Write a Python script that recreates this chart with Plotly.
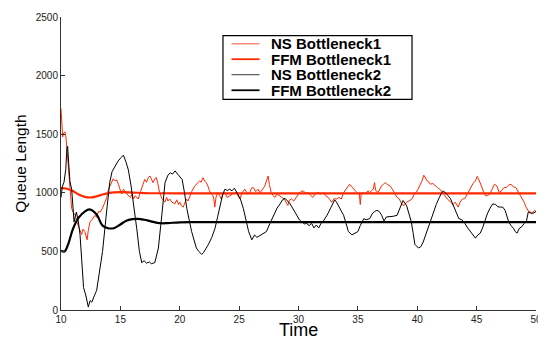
import plotly.graph_objects as go

# ---------------- data ----------------
ns1_t = [10.0, 10.07, 10.14, 10.22, 10.34, 10.42, 10.5, 10.6, 10.67, 10.8, 10.9, 11.05, 11.2, 11.3, 11.46, 11.6,
         11.74, 11.85, 12.0, 12.1, 12.2, 12.3, 12.44, 12.6, 12.75, 12.86, 13.0, 13.15, 13.3, 13.5, 13.7, 13.85,
         14.0, 14.15, 14.27, 14.4, 14.55, 14.7, 14.83, 14.95, 15.1, 15.25, 15.4, 15.55, 15.67, 15.85, 16.0, 16.1,
         16.25, 16.4, 16.5, 16.7, 16.9, 17.05, 17.2, 17.35, 17.5, 17.65, 17.75, 17.9, 18.03, 18.15, 18.3, 18.5,
         18.74, 18.9, 19.0, 19.16, 19.35, 19.58, 19.75, 19.9, 20.0, 20.15, 20.3, 20.45, 20.56, 20.7, 20.84, 21.0,
         21.26, 21.45, 21.68, 21.8, 21.96, 22.1, 22.24, 22.4, 22.5, 22.65, 22.8, 22.88, 22.95, 23.05, 23.2, 23.35,
         23.5, 23.65, 23.8, 24.0, 24.2, 24.45, 24.77, 24.9, 25.05, 25.25, 25.48, 25.7, 25.9, 26.05, 26.2, 26.4,
         26.6, 26.75, 26.9, 27.05, 27.16, 27.3, 27.44, 27.55, 27.7, 27.85, 28.0, 28.2, 28.4, 28.6, 28.8, 28.95,
         29.1, 29.25, 29.4, 29.6, 29.8, 30.0, 30.2, 30.4, 30.6, 30.8, 31.0, 31.2, 31.4, 31.65, 31.85, 32.1,
         32.3, 32.5, 32.65, 32.8, 33.0, 33.2, 33.4, 33.6, 33.8, 34.0, 34.15, 34.3, 34.5, 34.7, 34.85, 35.0,
         35.12, 35.2, 35.28, 35.4, 35.6, 35.86, 36.0, 36.15, 36.3, 36.4, 36.5, 36.7, 36.85, 37.0, 37.15, 37.3,
         37.5, 37.7, 37.9, 38.1, 38.3, 38.5, 38.7, 38.9, 39.1, 39.3, 39.55, 39.75, 40.0, 40.2, 40.4, 40.55,
         40.7, 40.85, 41.0, 41.1, 41.3, 41.5, 41.7, 41.9, 42.1, 42.35, 42.55, 42.8, 43.0, 43.2, 43.45, 43.6,
         43.8, 44.0, 44.25, 44.5, 44.7, 44.9, 45.05, 45.15, 45.3, 45.4, 45.6, 45.75, 45.9, 46.1, 46.3, 46.5,
         46.7, 46.9, 47.1, 47.3, 47.5, 47.7, 47.9, 48.1, 48.3, 48.5, 48.7, 48.85, 49.0, 49.15, 49.3, 49.45,
         49.6, 49.75, 49.9, 50.0]
ns1_y = [1720, 1550, 1477, 1510, 1520, 1470, 1365, 1200, 1114, 950, 864, 830, 810, 760, 725, 680,
         644, 690, 669, 620, 599, 680, 752, 770, 800, 808, 790, 840, 836, 870, 920, 960,
         1031, 1060, 1087, 1120, 1101, 1110, 1073, 1040, 989, 1030, 1017, 990, 975, 960, 990, 947,
         975, 961, 947, 1010, 1080, 1114, 1090, 1130, 1143, 1110, 1087, 1120, 1129, 1080, 1003, 950,
         920, 960, 930, 947, 920, 905, 940, 900, 920, 890, 878, 920, 947, 930, 975, 1010,
         1059, 1080, 1101, 1090, 1129, 1100, 1087, 1050, 1017, 990, 975, 940, 878, 960, 1003, 980,
         947, 990, 1003, 960, 975, 990, 1003, 980, 947, 1000, 1031, 990, 1003, 1040, 1045, 1010,
         1031, 1000, 1017, 1040, 1059, 1100, 1143, 1070, 1003, 980, 961, 990, 975, 960, 947, 920,
         892, 940, 947, 930, 961, 989, 1010, 1017, 995, 1003, 980, 961, 990, 1003, 990, 1000,
         975, 961, 940, 920, 950, 947, 960, 947, 1000, 1031, 1060, 1073, 1050, 1031, 1010, 989,
         1000, 900, 990, 1003, 990, 1017, 1000, 1020, 1031, 1087, 1020, 1003, 1031, 1060, 1073, 1087,
         1070, 1060, 1031, 990, 961, 947, 900, 892, 920, 930, 947, 989, 1017, 1059, 1101, 1150,
         1129, 1100, 1090, 1073, 1080, 1059, 1045, 1031, 1003, 975, 947, 920, 900, 920, 878, 920,
         947, 950, 1000, 1045, 1080, 1101, 1140, 1120, 1090, 1059, 1003, 975, 975, 990, 1030, 1073,
         1060, 1003, 1017, 1045, 1045, 1065, 1073, 1050, 1045, 1010, 975, 947, 920, 880, 850, 830,
         822, 840, 850, 840]

ffm1_t = [10, 10.5, 11, 11.5, 12, 12.5, 13, 13.5, 14, 14.5, 15, 16, 17, 18, 20, 25, 30, 40, 50]
ffm1_y = [1040, 1035, 1015, 985, 965, 960, 970, 985, 997, 1003, 1005, 1002, 998, 996, 995, 995, 995, 995, 995]

ns2_t = [10.0, 10.1, 10.25, 10.4, 10.5, 10.56, 10.65, 10.75, 10.9, 11.0, 11.1, 11.2, 11.3, 11.45, 11.6, 11.75,
         11.9, 12.1, 12.3, 12.45, 12.6, 12.8, 13.0, 13.2, 13.5, 13.8, 14.1, 14.3, 14.55, 14.8, 15.05, 15.25,
         15.45, 15.67, 15.9, 16.1, 16.38, 16.6, 16.8, 17.0, 17.2, 17.45, 17.6, 17.9, 18.2, 18.5, 18.76, 19.0,
         19.2, 19.4, 19.6, 19.9, 20.2, 20.4, 20.6, 21.0, 21.4, 21.6, 21.85, 22.0, 22.2, 22.4, 22.7, 22.97,
         23.2, 23.4, 23.6, 23.8, 24.0, 24.2, 24.4, 24.6, 24.8, 25.1, 25.36, 25.6, 25.8, 26.07, 26.3, 26.5,
         26.8, 27.0, 27.3, 27.6, 27.9, 28.2, 28.45, 28.65, 28.87, 29.1, 29.3, 29.5, 29.7, 29.9, 30.1, 30.3,
         30.5, 30.7, 30.9, 31.1, 31.3, 31.5, 31.7, 31.9, 32.1, 32.4, 32.65, 32.9, 33.05, 33.2, 33.5, 33.8,
         34.0, 34.2, 34.5, 34.7, 35.0, 35.2, 35.5, 35.7, 36.0, 36.2, 36.4, 36.6, 36.8, 37.0, 37.2, 37.4,
         37.7, 38.0, 38.3, 38.45, 38.6, 38.8, 39.1, 39.3, 39.5, 39.65, 39.8, 40.1, 40.3, 40.5, 40.7, 40.9,
         41.15, 41.4, 41.6, 41.8, 42.0, 42.2, 42.4, 42.6, 42.8, 43.05, 43.3, 43.5, 43.75, 44.0, 44.25, 44.5,
         44.7, 44.9, 45.1, 45.3, 45.5, 45.7, 45.9, 46.1, 46.35, 46.6, 46.8, 47.0, 47.2, 47.4, 47.55, 47.7,
         47.9, 48.1, 48.25, 48.4, 48.6, 48.8, 49.0, 49.2, 49.35, 49.5, 49.7, 49.9, 50.0]
ns2_y = [960, 1050, 1090, 1200, 1380, 1396, 1250, 1100, 1028, 900, 752, 800, 836, 760, 644, 420,
         192, 120, 25, 80, 67, 120, 167, 300, 500, 800, 1087, 1180, 1229, 1270, 1300, 1321,
         1270, 1196, 1060, 920, 694, 500, 404, 420, 400, 410, 395, 404, 529, 820, 1087, 1150,
         1170, 1160, 1187, 1150, 1114, 1000, 864, 669, 529, 500, 474, 490, 520, 557, 620, 697,
         800, 894, 980, 1031, 1020, 1031, 1017, 1040, 1003, 950, 864, 760, 669, 599, 640, 620,
         641, 650, 669, 740, 808, 870, 905, 940, 953, 930, 905, 870, 836, 790, 766, 750,
         735, 738, 720, 740, 700, 725, 700, 740, 760, 808, 860, 905, 940, 920, 870, 808,
         740, 669, 641, 650, 669, 720, 780, 770, 780, 820, 840, 850, 840, 808, 760, 794,
         794, 800, 808, 850, 892, 934, 892, 830, 752, 660, 560, 529, 540, 580, 641, 697,
         770, 836, 900, 947, 990, 1017, 1000, 975, 950, 892, 830, 780, 770, 740, 700, 669,
         640, 613, 640, 655, 700, 766, 820, 864, 905, 900, 880, 878, 878, 850, 808, 752,
         720, 697, 670, 655, 697, 710, 738, 760, 836, 836, 822, 836, 840]

ffm2_t = [10, 10.3, 10.6, 11, 11.5, 12, 12.4, 13, 13.5, 14, 14.5, 15, 15.5, 16, 16.5, 17, 17.5, 18, 18.5, 19,
          20, 21, 22, 25, 30, 40, 50]
ffm2_y = [505, 500, 560, 690, 790, 840, 858, 815, 720, 697, 700, 730, 762, 775, 778, 770, 758, 746, 740, 742,
          748, 750, 750, 750, 750, 750, 750]

names = ["NS Bottleneck1", "FFM Bottleneck1", "NS Bottleneck2", "FFM Bottleneck2"]
x_ticks = [10, 15, 20, 25, 30, 35, 40, 45, 50]
y_ticks = [0, 500, 1000, 1500, 2000, 2500]

RED = "rgb(255,40,0)"
BLACK = "#000000"
colors = [RED, RED, BLACK, BLACK]
widths = [1, 2.2, 1, 2.2]

fig = go.Figure()
series = [(ns1_t, ns1_y), (ffm1_t, ffm1_y), (ns2_t, ns2_y), (ffm2_t, ffm2_y)]
for (t, y), n, c, w in zip(series, names, colors, widths):
    shape = "spline" if n.startswith("FFM") else "linear"
    fig.add_trace(go.Scatter(x=t, y=y, mode="lines", name=n,
                             line=dict(color=c, width=w, shape=shape), showlegend=False))

FONT = "Liberation Sans, Arial, Helvetica, sans-serif"

# manual legend box (to match the compact row spacing of the reference)
shapes = [dict(type="rect", xref="paper", yref="paper", x0=0.341, x1=0.739, y0=0.719, y1=0.9365,
               line=dict(color="black", width=1.2), fillcolor="white", layer="above")]
annotations = []
row_y = [0.9085, 0.856, 0.803, 0.750]
for ry, n, c, w in zip(row_y, names, colors, widths):
    shapes.append(dict(type="line", xref="paper", yref="paper", x0=0.359, x1=0.418, y0=ry, y1=ry,
                       line=dict(color=c, width=w * 0.8), layer="above"))
    annotations.append(dict(xref="paper", yref="paper", x=0.438, y=ry, xanchor="left", yanchor="middle",
                            text="<b>" + n + "</b>", showarrow=False,
                            font=dict(family=FONT, size=15, color="black")))

annotations.append(dict(xref="paper", yref="paper", x=0.5, y=-0.068, xanchor="center", yanchor="middle",
                        text="Time", showarrow=False, font=dict(family=FONT, size=18, color="black")))
annotations.append(dict(xref="paper", yref="paper", x=-0.086, y=0.5, xanchor="center", yanchor="middle",
                        text="Queue Length", textangle=-90, showarrow=False,
                        font=dict(family=FONT, size=15.5, color="black")))

# the page body has an 8px default margin, so the figure is sized / offset to compensate
fig.update_layout(
    width=538, height=334,
    margin=dict(l=53, r=10, t=3, b=32),
    plot_bgcolor="white", paper_bgcolor="white",
    font=dict(family=FONT, size=10, color="#222"),
    shapes=shapes, annotations=annotations,
    xaxis=dict(range=[10, 50], tickvals=x_ticks, ticktext=[str(v) for v in x_ticks],
               showgrid=False, zeroline=False, showline=True, linecolor="#333", linewidth=1,
               ticks="inside", ticklen=4, tickcolor="#333", tickfont=dict(size=10, color="#222"),
               ticklabeloverflow="allow"),
    yaxis=dict(range=[0, 2500], tickvals=y_ticks, ticktext=[str(v) for v in y_ticks],
               showgrid=False, zeroline=False, showline=True, linecolor="#333", linewidth=1,
               ticks="inside", ticklen=4, tickcolor="#333", tickfont=dict(size=10, color="#222"),
               ticklabeloverflow="allow"),
)

fig.write_html("out.html", config={"displayModeBar": False})
